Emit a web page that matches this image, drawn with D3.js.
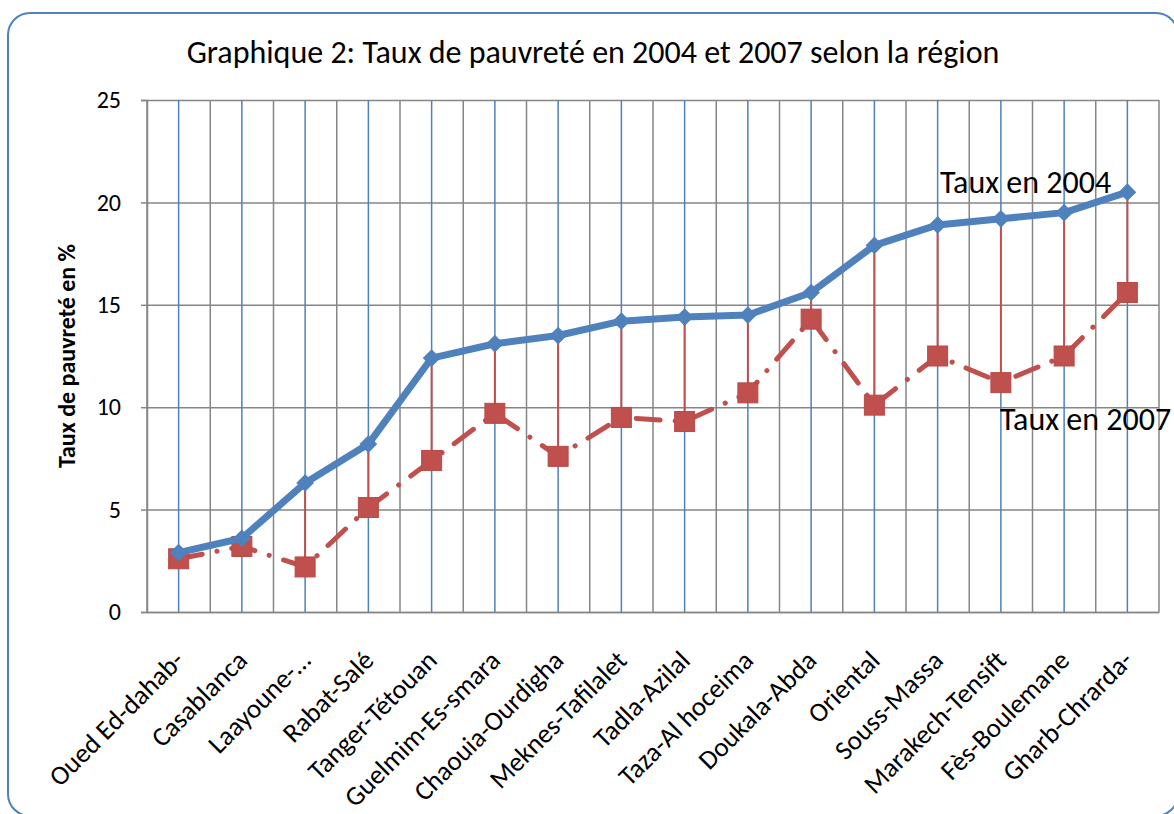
<!DOCTYPE html>
<html>
<head>
<meta charset="utf-8">
<script src="https://cdn.jsdelivr.net/npm/d3@7"></script>
<style>
  body { margin: 0; background: #fff; }
  svg, svg text { font-family: Carlito, Calibri, Lato, "Open Sans", sans-serif; }
</style>
</head>
<body>
<svg id="chart" width="1174" height="814"></svg>
<script>
const regions = ["Oued Ed-dahab-", "Casablanca", "Laayoune-…", "Rabat-Salé", "Tanger-Tétouan",
  "Guelmim-Es-smara", "Chaouia-Ourdigha", "Meknes-Tafilalet", "Tadla-Azilal", "Taza-Al hoceima",
  "Doukala-Abda", "Oriental", "Souss-Massa", "Marakech-Tensift", "Fès-Boulemane", "Gharb-Chrarda-"]
const taux2004 = [2.9, 3.6, 6.3, 8.2, 12.4, 13.1, 13.5, 14.2, 14.4, 14.5, 15.6, 17.9, 18.9, 19.2, 19.5, 20.5]
const taux2007 = [2.6, 3.2, 2.2, 5.1, 7.4, 9.7, 7.6, 9.5, 9.3, 10.7, 14.3, 10.1, 12.5, 11.2, 12.5, 15.6]
const yTicks = [0, 5, 10, 15, 20, 25]

const blue = '#4F81BD'
const red = '#C0504D'
const grey = '#868686'

const svg = d3.select('#chart')

// outer frame
svg.append('rect')
    .attr('x', 8).attr('y', 13)
    .attr('width', 1170).attr('height', 803)
    .attr('rx', 22)
    .attr('fill', 'none')
    .attr('stroke', blue)
    .attr('stroke-width', 2)

const plotLeft = 147, plotRight = 1159, plotTop = 100, plotBottom = 612

// scales
const xScale = d3.scaleBand()
    .domain(regions)
    .range([plotLeft, plotRight])
const yScale = d3.scaleLinear()
    .domain([0, 25])
    .range([plotBottom, plotTop])
const cx = d => xScale(d) + xScale.bandwidth() / 2

// horizontal grid
const yGrid = d3.axisLeft(yScale)
    .tickValues(yTicks)
    .tickSize(-(plotRight - plotLeft))
    .tickFormat('')
svg.append('g')
    .attr('transform', `translate(${plotLeft},0)`)
    .call(yGrid)
    .call(g => g.select('.domain').remove())
    .selectAll('line').attr('stroke', grey).attr('stroke-width', 1.5)

// vertical gray lines at category boundaries
svg.append('g')
    .selectAll('line')
    .data(regions.concat(['end']))
    .enter()
    .append('line')
        .attr('x1', (d, i) => i < regions.length ? xScale(d) : plotRight)
        .attr('x2', (d, i) => i < regions.length ? xScale(d) : plotRight)
        .attr('y1', plotTop).attr('y2', plotBottom)
        .attr('stroke', grey)
        .attr('stroke-width', 1.5)

// blue lines at category centers
svg.append('g')
    .selectAll('line')
    .data(regions)
    .enter()
    .append('line')
        .attr('x1', cx).attr('x2', cx)
        .attr('y1', plotTop).attr('y2', plotBottom)
        .attr('stroke', blue)
        .attr('stroke-width', 1.5)

// y axis
const yAxis = d3.axisLeft(yScale)
    .tickValues(yTicks)
    .tickSize(6)
    .tickPadding(20)
svg.append('g')
    .attr('transform', `translate(${plotLeft},0)`)
    .call(yAxis)
    .attr('font-family', null)
    .call(g => g.select('.domain').attr('stroke', grey).attr('stroke-width', 1.5))
    .call(g => g.selectAll('line').attr('stroke', grey).attr('stroke-width', 1.5))
    .selectAll('text')
        .attr('fill', '#000')
        .style('font-size', '24px')

// x axis labels
const xAxis = d3.axisBottom(xScale).tickSize(0).tickPadding(0)
svg.append('g')
    .attr('transform', `translate(0,${plotBottom})`)
    .call(xAxis)
    .attr('font-family', null)
    .call(g => g.select('.domain').attr('stroke', grey).attr('stroke-width', 1.5))
    .selectAll('text')
        .attr('fill', '#000')
        .style('font-size', '27px')
        .style('text-anchor', 'end')
        .attr('dy', 0)
        .attr('y', 0)
        .attr('transform', 'translate(7,50)rotate(-45)')

// high-low lines
svg.append('g')
    .selectAll('line')
    .data(regions)
    .enter()
    .append('line')
        .attr('x1', cx).attr('x2', cx)
        .attr('y1', (d, i) => yScale(taux2004[i]))
        .attr('y2', (d, i) => yScale(taux2007[i]))
        .attr('stroke', red)
        .attr('stroke-width', 2)

// 2007 series
const line2007 = d3.line()
    .x((d, i) => cx(regions[i]))
    .y(d => yScale(d))
svg.append('path')
    .datum(taux2007)
    .attr('d', line2007)
    .attr('fill', 'none')
    .attr('stroke', red)
    .attr('stroke-width', 5)
    .attr('stroke-linecap', 'round')
    .attr('stroke-dasharray', '24,15,0.1,15')
svg.selectAll('.sq')
    .data(taux2007)
    .enter()
    .append('rect')
        .attr('x', (d, i) => cx(regions[i]) - 10)
        .attr('y', d => yScale(d) - 10)
        .attr('width', 20).attr('height', 20)
        .attr('fill', red)
        .attr('stroke', '#b84a47')

// 2004 series
const line2004 = d3.line()
    .x((d, i) => cx(regions[i]))
    .y(d => yScale(d))
svg.append('path')
    .datum(taux2004)
    .attr('d', line2004)
    .attr('fill', 'none')
    .attr('stroke', blue)
    .attr('stroke-width', 7)
    .attr('stroke-linejoin', 'round')
svg.selectAll('.dia')
    .data(taux2004)
    .enter()
    .append('path')
        .attr('d', d3.symbol().type(d3.symbolDiamond2).size(200))
        .attr('transform', (d, i) => `translate(${cx(regions[i])},${yScale(d)})`)
        .attr('fill', blue)

// title and labels
svg.append('text')
    .attr('x', 593).attr('y', 63)
    .attr('text-anchor', 'middle')
    .style('font-size', '32px')
    .text('Graphique 2: Taux de pauvreté en 2004 et 2007 selon la région')

svg.append('text')
    .attr('transform', 'translate(75,356)rotate(-90)')
    .attr('text-anchor', 'middle')
    .style('font-size', '24px')
    .style('font-weight', 'bold')
    .text('Taux de pauvreté en %')

svg.append('text')
    .attr('x', 940).attr('y', 193)
    .style('font-size', '32px')
    .text('Taux en 2004')
svg.append('text')
    .attr('x', 1000).attr('y', 430)
    .style('font-size', '32px')
    .text('Taux en 2007')
</script>
</body>
</html>
